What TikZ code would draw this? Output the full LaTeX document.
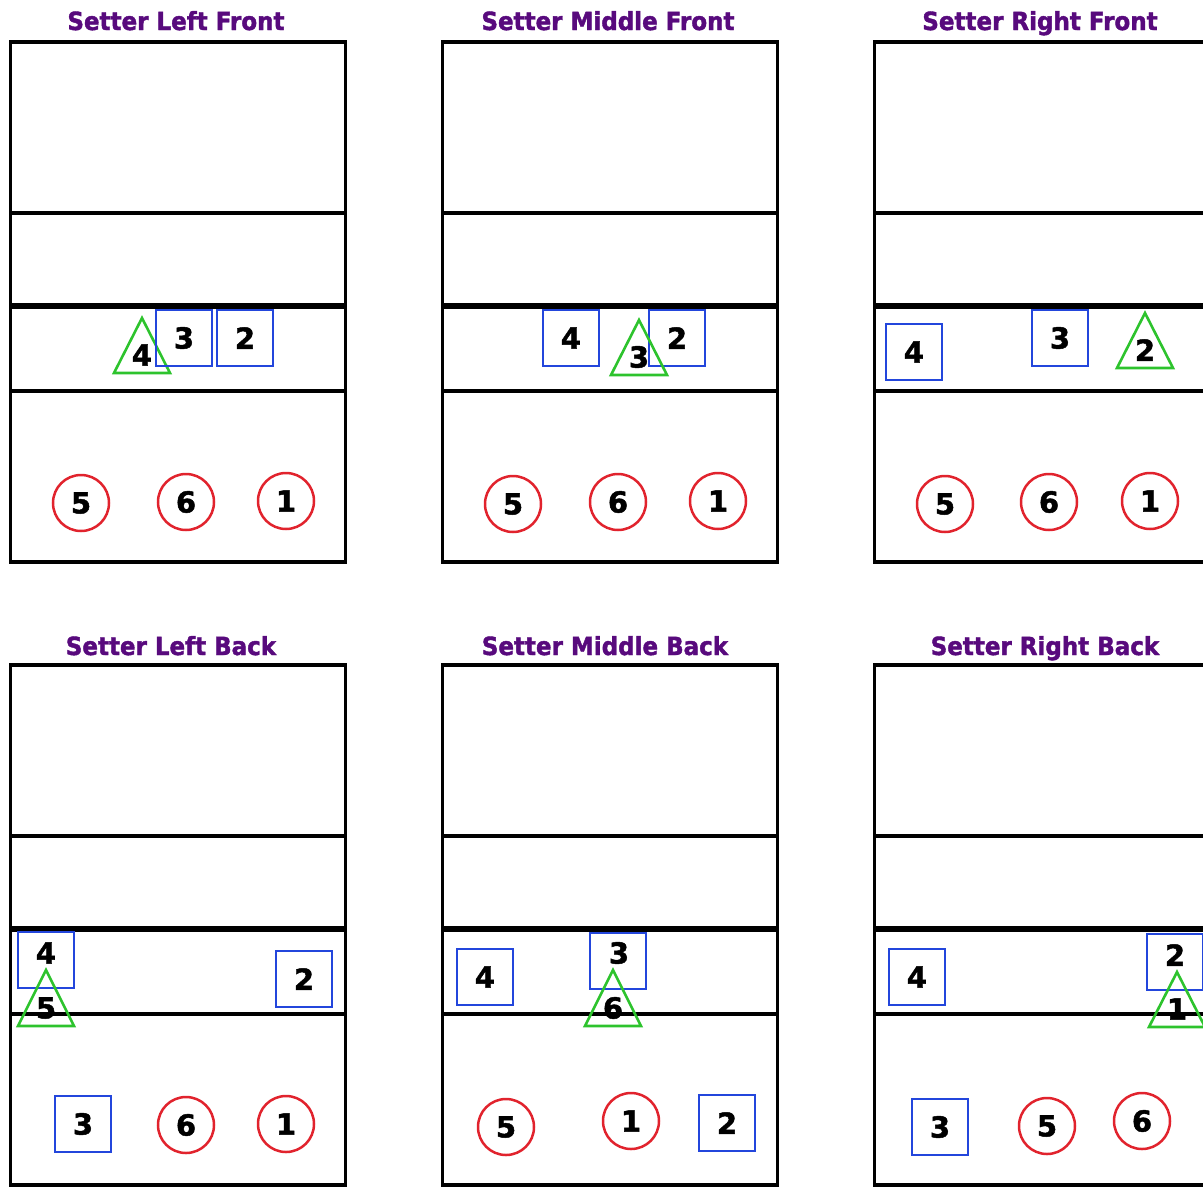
\documentclass[tikz,border=0pt]{standalone}
\usepackage{fontspec}
\setmainfont{DejaVu Sans}
\newfontfamily\heavyfont[FakeBold=1.6]{DejaVu Sans Bold}
\newfontfamily\headfont[FakeBold=1.6,FakeStretch=0.92]{DejaVu Sans Bold}
\definecolor{titlepurple}{RGB}{88,10,125}
\definecolor{hitblue}{RGB}{35,70,220}
\definecolor{backred}{RGB}{225,35,45}
\definecolor{setgreen}{RGB}{45,195,45}

\begin{document}
\begin{tikzpicture}[x=1pt,y=-1pt,
    title/.style={font=\fontsize{25}{28}\headfont, text=titlepurple, anchor=base},
    digit/.style={font=\fontsize{29}{30}\heavyfont, inner sep=0pt},
    hitter/.style={digit, draw=hitblue, line width=2.8pt, minimum size=56pt},
    backrow/.style={digit, circle, draw=backred, line width=2.5pt, minimum size=56pt},
    setter/.style={draw=setgreen, line width=2.6pt, line join=miter},
    court/.style={line width=3.4pt},
    net/.style={line width=6pt}]
  \useasboundingbox (0,0) rectangle (1203,1187);

  % Courts
  \foreach \cx/\cy in {10.5/42, 442.5/42, 874.5/42, 10.5/665, 442.5/665, 874.5/665} {
    \draw[court] (\cx,\cy) rectangle ++(335,520);
    \draw[court] (\cx,\cy+171) -- ++(335,0);
    \draw[net] (\cx,\cy+263.5) -- ++(335,0);
    \draw[court] (\cx,\cy+349) -- ++(335,0);
  }

  % Titles
  \node[title] (titleLF) at (176,30) {Setter Left Front};
  \node[title] (titleMF) at (608,30) {Setter Middle Front};
  \node[title] (titleRF) at (1040,30) {Setter Right Front};
  \node[title] (titleLB) at (171,655) {Setter Left Back};
  \node[title] (titleMB) at (605,655) {Setter Middle Back};
  \node[title] (titleRB) at (1045,655) {Setter Right Back};

  % Setter left front
  \node[digit] (lfSet4) at (142,355) {4};
  \draw[setter] (lfSet4.center) ++(0,-37) -- ++(28,55) -- ++(-56,0) -- cycle;
  \node[hitter] (lfSq3) at (184,338) {3};
  \node[hitter] (lfSq2) at (245,338) {2};
  \node[backrow] (lfCirc5) at (81,503) {5};
  \node[backrow] (lfCirc6) at (186,502) {6};
  \node[backrow] (lfCirc1) at (286,501) {1};

  % Setter middle front
  \node[hitter] (mfSq4) at (571,338) {4};
  \node[hitter] (mfSq2) at (677,338) {2};
  \node[digit] (mfSet3) at (639,357) {3};
  \draw[setter] (mfSet3.center) ++(0,-37) -- ++(28,55) -- ++(-56,0) -- cycle;
  \node[backrow] (mfCirc5) at (513,504) {5};
  \node[backrow] (mfCirc6) at (618,502) {6};
  \node[backrow] (mfCirc1) at (718,501) {1};

  % Setter right front
  \node[hitter] (rfSq4) at (914,352) {4};
  \node[hitter] (rfSq3) at (1060,338) {3};
  \node[digit] (rfSet2) at (1145,350) {2};
  \draw[setter] (rfSet2.center) ++(0,-37) -- ++(28,55) -- ++(-56,0) -- cycle;
  \node[backrow] (rfCirc5) at (945,504) {5};
  \node[backrow] (rfCirc6) at (1049,502) {6};
  \node[backrow] (rfCirc1) at (1150,501) {1};

  % Setter left back
  \node[hitter] (lbSq4) at (46,960) {};
  \node[digit] (lbNum4) at (46,953) {4};
  \node[digit] (lbSet5) at (46,1008) {5};
  \draw[setter] (lbSet5.center) ++(0,-38) -- ++(28,56) -- ++(-56,0) -- cycle;
  \node[hitter] (lbSq2) at (304,979) {2};
  \node[hitter] (lbSq3) at (83,1124) {3};
  \node[backrow] (lbCirc6) at (186,1125) {6};
  \node[backrow] (lbCirc1) at (286,1124) {1};

  % Setter middle back
  \node[hitter] (mbSq4) at (485,977) {4};
  \node[hitter] (mbSq3) at (618,961) {};
  \node[digit] (mbNum3) at (619,953) {3};
  \node[digit] (mbSet6) at (613,1008) {6};
  \draw[setter] (mbSet6.center) ++(0,-38) -- ++(28,56) -- ++(-56,0) -- cycle;
  \node[backrow] (mbCirc5) at (506,1127) {5};
  \node[backrow] (mbCirc1) at (631,1121) {1};
  \node[hitter] (mbSq2) at (727,1123) {2};

  % Setter right back
  \node[hitter] (rbSq4) at (917,977) {4};
  \node[hitter] (rbSq2) at (1175,962) {};
  \node[digit] (rbNum2) at (1175,955) {2};
  \node[digit] (rbSet1) at (1177,1009) {1};
  \draw[setter] (rbSet1.center) ++(0,-37) -- ++(28,55) -- ++(-56,0) -- cycle;
  \node[hitter] (rbSq3) at (940,1127) {3};
  \node[backrow] (rbCirc5) at (1047,1126) {5};
  \node[backrow] (rbCirc6) at (1142,1121) {6};
\end{tikzpicture}
\end{document}
